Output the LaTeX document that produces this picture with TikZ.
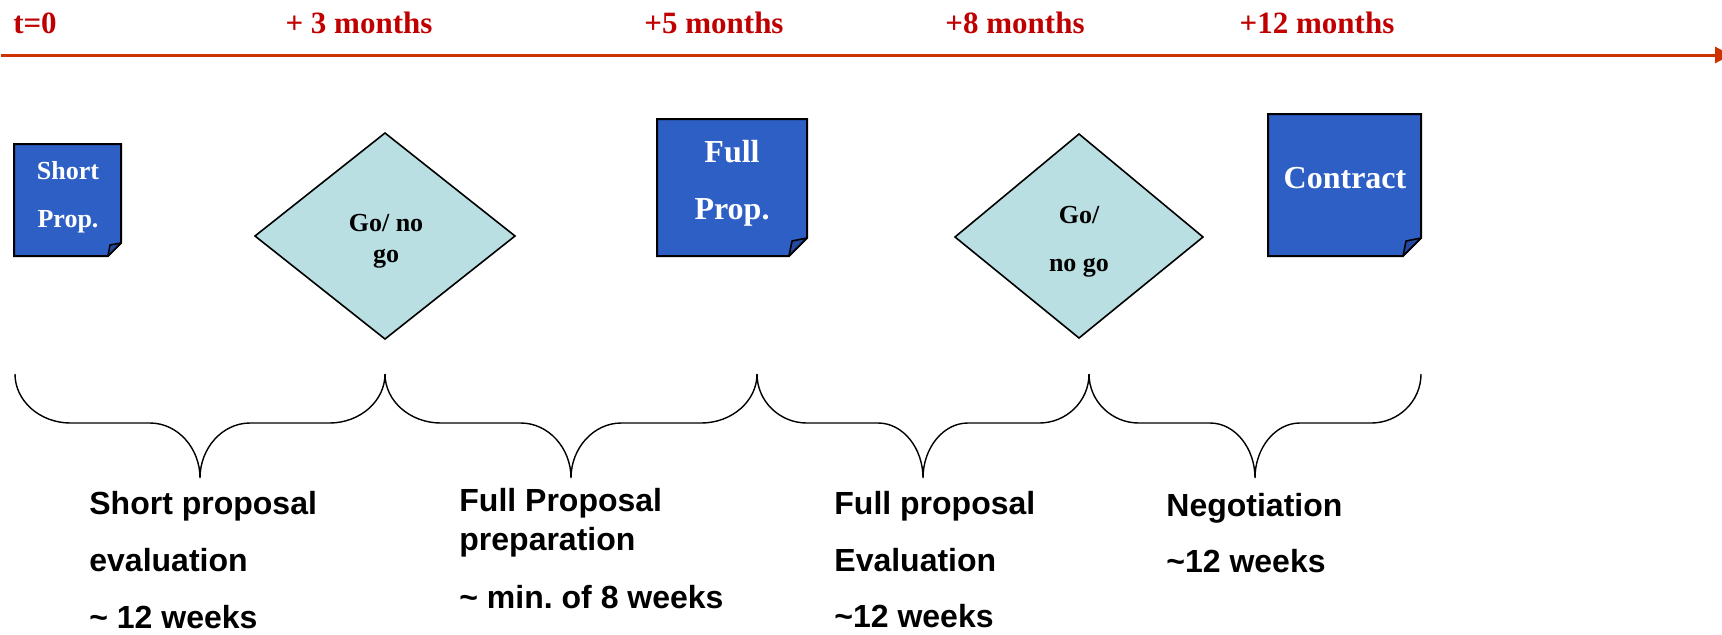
\documentclass[tikz,border=0pt]{standalone}
\usepackage{fontspec}
\setmainfont{Liberation Serif}
\setsansfont{Liberation Sans}
\usetikzlibrary{arrows.meta}
\definecolor{timered}{HTML}{C00000}
\definecolor{axisred}{HTML}{CC3300}
\definecolor{propblue}{HTML}{2E5FC4}
\definecolor{foldblue}{HTML}{2449A0}
\definecolor{gocyan}{HTML}{B9DFE3}
\frenchspacing
\begin{document}
\begin{tikzpicture}[x=0.5pt,y=-0.5pt,
    timeline/.style={axisred,line width=1.5pt,-{Triangle[length=8pt,width=8pt]}},
    timelabel/.style={text=timered,font=\fontsize{15.5}{18}\selectfont\bfseries,anchor=base,inner sep=0pt},
    propbox/.style={fill=propblue,draw=black,line width=1pt,line join=miter},
    foldflap/.style={fill=foldblue,draw=black,line width=0.8pt,line join=round},
    proptext/.style={text=white,font=\fontsize{16}{18}\selectfont\bfseries,anchor=base,inner sep=0pt},
    gonogo/.style={fill=gocyan,draw=black,line width=0.8pt},
    gotext/.style={font=\fontsize{13}{15}\selectfont\bfseries,anchor=base,inner sep=0pt},
    phasebrace/.style={draw=black,line width=0.7pt},
    phasetext/.style={font=\fontsize{16}{18}\selectfont\sffamily\bfseries,anchor=base west,inner sep=0pt}]
  \useasboundingbox (0,0) rectangle (1722,634);
  % time axis
  \coordinate (tstart) at (1,55);
  \coordinate (tend) at (1731,55);
  \draw[timeline] (tstart) -- (tend);
  \draw (35,33) node[timelabel] (t0) {t=0};
  \draw (359,33) node[timelabel] (m3) {+ 3 months};
  \draw (714,33) node[timelabel] (m5) {+5 months};
  \draw (1015,33) node[timelabel] (m8) {+8 months};
  \draw (1317,33) node[timelabel] (m12) {+12 months};
  % proposals and contract
  \draw[propbox] (14,144) -- (121,144) -- (121,243) -- (108,256) -- (14,256) -- cycle;
  \draw[foldflap] (121,243) -- (108,256) -- (110,245) -- cycle;
  \draw (68,179) node[proptext,font=\fontsize{13}{15}\selectfont\bfseries] (sp1) {Short};
  \draw (68,227) node[proptext,font=\fontsize{13}{15}\selectfont\bfseries] (sp2) {Prop.};
  \draw[propbox] (657,119) -- (807,119) -- (807,238) -- (789,256) -- (657,256) -- cycle;
  \draw[foldflap] (807,238) -- (789,256) -- (792,241) -- cycle;
  \draw (732,162) node[proptext] (fp1) {Full};
  \draw (732,219) node[proptext] (fp2) {Prop.};
  \draw[propbox] (1268,114) -- (1421,114) -- (1421,238) -- (1403,256) -- (1268,256) -- cycle;
  \draw[foldflap] (1421,238) -- (1403,256) -- (1406,241) -- cycle;
  \draw (1345,188) node[proptext] (ct) {Contract};
  % decisions
  \draw[gonogo] (255,236) -- (385,133) -- (515,236) -- (385,339) -- cycle;
  \draw (386,231) node[gotext] (go1) {Go/ no};
  \draw (386,262) node[gotext] (go2) {go};
  \draw[gonogo] (955,237) -- (1079,134) -- (1203,237) -- (1079,338) -- cycle;
  \draw (1079,223) node[gotext] (go3) {Go/};
  \draw (1079,271) node[gotext] (go4) {no go};
  % phases
  \foreach \xa/\xb in {15/385,385/757,757/1089,1089/1421}{
    \pgfmathsetmacro\xc{(\xa+\xb)/2}
    \pgfmathsetmacro\ro{0.3*(\xb-\xa)/2}
    \pgfmathsetmacro\ri{0.27*(\xb-\xa)/2}
    \draw[phasebrace] (\xa,374) .. controls (\xa,401) and (\xa+0.45*\ro,423) .. (\xa+\ro,423)
      -- (\xc-\ri,423) .. controls (\xc-0.45*\ri,423) and (\xc,448) .. (\xc,478)
      .. controls (\xc,448) and (\xc+0.45*\ri,423) .. (\xc+\ri,423)
      -- (\xb-\ro,423) .. controls (\xb-0.45*\ro,423) and (\xb,401) .. (\xb,374);
  }
  \draw (89,514) node[phasetext] (ph1a) {Short proposal};
  \draw (89,571) node[phasetext] (ph1b) {evaluation};
  \draw (89,628) node[phasetext] (ph1c) {\textasciitilde{} 12 weeks};
  \draw (459,511) node[phasetext] (ph2a) {Full Proposal};
  \draw (459,550) node[phasetext] (ph2b) {preparation};
  \draw (459,608) node[phasetext] (ph2c) {\textasciitilde{} min.\ of 8 weeks};
  \draw (834,514) node[phasetext] (ph3a) {Full proposal};
  \draw (834,571) node[phasetext] (ph3b) {Evaluation};
  \draw (834,627) node[phasetext] (ph3c) {\textasciitilde12 weeks};
  \draw (1166,516) node[phasetext] (ph4a) {Negotiation};
  \draw (1166,572) node[phasetext] (ph4b) {\textasciitilde12 weeks};
\end{tikzpicture}
\end{document}
